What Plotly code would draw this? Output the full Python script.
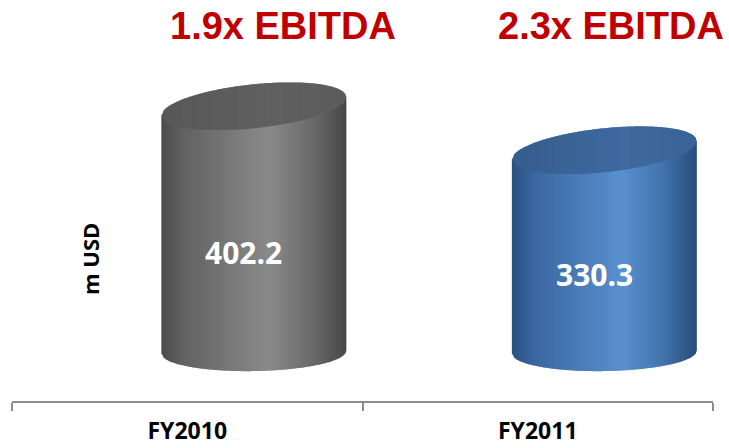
import numpy as np
import plotly.graph_objects as go

# ---- chart data ----
categories = ["FY2010", "FY2011"]
net_debt_musd = [402.2, 330.3]
value_labels = ["402.2", "330.3"]
multiple_labels = ["1.9x EBITDA", "2.3x EBITDA"]
unit_label = "m USD"

# ---- styling ----
W, H = 729, 448
M_L, M_R, M_T, M_B = 12, 16, 0, 47
Y_RANGE = [-80.0, 576.0]
X_RANGE = [-0.5, 1.5]
PLOT_W = W - M_L - M_R
PLOT_H = H - M_T - M_B
PX_PER_X = PLOT_W / (X_RANGE[1] - X_RANGE[0])
PX_PER_Y = PLOT_H / (Y_RANGE[1] - Y_RANGE[0])

CYL_OFFSET = 0.19            # 3D drum sits right of the category centre
CYL_HALF_W = 92.5 / PX_PER_X
CAP_HALF_H = 22 / PX_PER_Y   # top ellipse
CAP_TILT = 0.10 * PX_PER_X / PX_PER_Y
BASE_HALF_H = 19 / PX_PER_Y  # bottom ellipse
BASE_TILT = 0.015 * PX_PER_X / PX_PER_Y
N_STRIPS = 90

body_stops = [
    [(0.0, "#4b4b4b"), (0.12, "#626262"), (0.58, "#8a8a8a"), (0.82, "#6a6a6a"), (1.0, "#464646")],
    [(0.0, "#29507f"), (0.12, "#3a679f"), (0.60, "#5990d0"), (0.82, "#4273ad"), (1.0, "#284c78")],
]
cap_stops = [
    [(0.0, "#585858"), (0.6, "#606060"), (1.0, "#5c5c5c")],
    [(0.0, "#355e8d"), (0.6, "#3f69a0"), (1.0, "#3a6396")],
]
TITLE_RED = "#c00000"
AXIS_GREY = "#8c8c8c"


def hex_to_rgb(h):
    h = h.lstrip("#")
    return np.array([int(h[i:i + 2], 16) for i in (0, 2, 4)], dtype=float)


def color_at(stops, u):
    for (u0, c0), (u1, c1) in zip(stops[:-1], stops[1:]):
        if u <= u1:
            f = 0.0 if u1 == u0 else (u - u0) / (u1 - u0)
            c = hex_to_rgb(c0) * (1 - f) + hex_to_rgb(c1) * f
            return "rgb(%d,%d,%d)" % tuple(np.round(c).astype(int))
    c = hex_to_rgb(stops[-1][1])
    return "rgb(%d,%d,%d)" % tuple(c.astype(int))


def half_chord(u):
    return np.sqrt(np.clip(1.0 - u * u, 0.0, 1.0))


fig = go.Figure()

# category axis carrier (invisible)
fig.add_trace(go.Scatter(x=categories, y=net_debt_musd, mode="markers",
                         marker=dict(opacity=0), hoverinfo="skip", xaxis="x", yaxis="y"))

for i, value in enumerate(net_debt_musd):
    cx = i + CYL_OFFSET
    edges = np.linspace(cx - CYL_HALF_W, cx + CYL_HALF_W, N_STRIPS + 1)
    overlap = (edges[1] - edges[0]) * 0.6

    # body: vertical strips from the lower rim of the base up to the cap's centre line
    for k in range(N_STRIPS):
        x0 = edges[k]
        x1 = min(edges[k + 1] + overlap, edges[-1])
        xs = np.array([x0, x1])
        u = (xs - cx) / CYL_HALF_W
        y_bot = BASE_TILT * (xs - cx) - BASE_HALF_H * half_chord(u)
        y_top = value + CAP_TILT * (xs - cx)
        um = ((x0 + edges[k + 1]) / 2 - edges[0]) / (2 * CYL_HALF_W)
        col = color_at(body_stops[i], um)
        fig.add_trace(go.Scatter(
            x=[x0, x1, x1, x0, x0], y=[y_bot[0], y_bot[1], y_top[1], y_top[0], y_bot[0]],
            mode="lines", fill="toself", fillcolor=col, line=dict(width=0),
            hoverinfo="skip", xaxis="x2", yaxis="y"))

    # top cap: tilted ellipse
    for k in range(N_STRIPS):
        x0 = edges[k]
        x1 = min(edges[k + 1] + overlap, edges[-1])
        xs = np.array([x0, x1])
        u = (xs - cx) / CYL_HALF_W
        yc = value + CAP_TILT * (xs - cx)
        hh = CAP_HALF_H * half_chord(u)
        um = ((x0 + edges[k + 1]) / 2 - edges[0]) / (2 * CYL_HALF_W)
        col = color_at(cap_stops[i], um)
        fig.add_trace(go.Scatter(
            x=[x0, x1, x1, x0, x0], y=[yc[0] - hh[0], yc[1] - hh[1], yc[1] + hh[1], yc[0] + hh[0], yc[0] - hh[0]],
            mode="lines", fill="toself", fillcolor=col, line=dict(width=0),
            hoverinfo="skip", xaxis="x2", yaxis="y"))

    # value label inside the drum
    fig.add_annotation(x=cx, y=value / 2, xref="x2", yref="y", text=value_labels[i],
                       showarrow=False, xshift=-10, yshift=-23,
                       font=dict(family="Open Sans", size=30, color="white", weight="bold"))

# EBITDA multiples above the drums
title_x = [0.273, 1.209]
for i, txt in enumerate(multiple_labels):
    fig.add_annotation(x=title_x[i], xref="x2", y=(PLOT_H - 26) / PLOT_H, yref="paper",
                       yanchor="middle", text=txt, showarrow=False,
                       font=dict(family="Liberation Sans", size=38, color=TITLE_RED, weight="bold"))

# unit label
fig.add_annotation(x=(73 - M_L) / PLOT_W, y=(PLOT_H - 259) / PLOT_H, xref="paper", yref="paper",
                   text=unit_label, textangle=-90, showarrow=False,
                   font=dict(family="Open Sans", size=22, color="black", weight="bold"))

fig.update_layout(
    width=W, height=H,
    margin=dict(l=M_L, r=M_R, t=M_T, b=M_B),
    paper_bgcolor="white", plot_bgcolor="white",
    showlegend=False,
    xaxis=dict(type="category", categoryorder="array", categoryarray=categories,
               range=X_RANGE, tickson="boundaries", ticks="outside", ticklen=8,
               tickwidth=1.5, tickcolor=AXIS_GREY, showline=True, linecolor=AXIS_GREY,
               linewidth=1.5, showgrid=False, zeroline=False, ticklabelstandoff=9,
               automargin=False,
               tickfont=dict(family="Open Sans", size=23, color="black", weight="bold")),
    xaxis2=dict(overlaying="x", range=X_RANGE, visible=False),
    yaxis=dict(range=Y_RANGE, visible=False, fixedrange=True, automargin=False),
)

fig.write_html("out.html")
